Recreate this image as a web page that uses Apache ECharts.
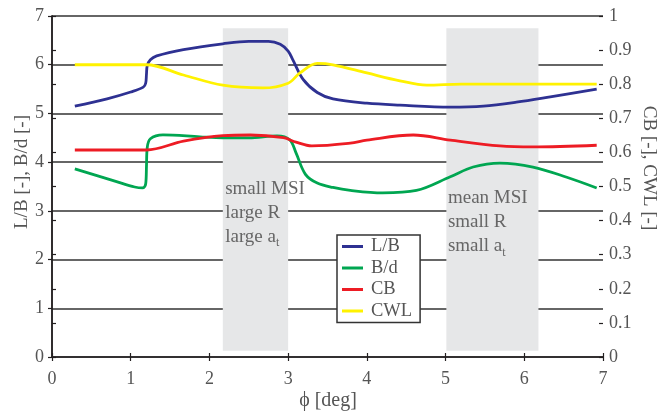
<!DOCTYPE html>
<html><head><meta charset="utf-8">
<script src="https://cdn.jsdelivr.net/npm/echarts@6/dist/echarts.min.js"></script>
<style>html,body{margin:0;padding:0;background:#fff}#c{width:661px;height:412px}</style>
</head><body><div id="c"></div>
<script>
// ---- data ----
const phiLB = [0.29,0.7,1.0,1.16,1.19,1.2,1.21,1.25,1.33,1.67,2.17,2.5,2.75,2.9,3.0,3.06,3.19,3.37,3.57,4.0,4.42,5.06,5.48,5.9,6.33,6.92];
const valLB = [5.15,5.3,5.44,5.54,5.62,5.8,5.98,6.1,6.18,6.31,6.43,6.48,6.48,6.42,6.28,6.1,5.7,5.43,5.3,5.21,5.17,5.13,5.15,5.23,5.34,5.5];

const phiBd = [0.29,0.82,1.05,1.15,1.19,1.2,1.21,1.25,1.41,1.88,2.17,2.5,2.86,3.02,3.1,3.22,3.37,3.57,3.79,4.2,4.63,5.06,5.35,5.69,6.11,6.54,6.92];
const valBd = [3.86,3.6,3.49,3.47,3.55,3.9,4.3,4.48,4.56,4.52,4.5,4.5,4.54,4.46,4.19,3.75,3.57,3.48,3.42,3.37,3.42,3.7,3.9,3.98,3.9,3.69,3.47];

const phiCB = [0.29,1.2,1.67,2.17,2.52,2.94,3.1,3.3,3.79,4.0,4.59,5.06,5.69,6.11,6.92];
const valCB = [0.607,0.607,0.633,0.649,0.651,0.643,0.63,0.619,0.627,0.636,0.651,0.636,0.619,0.616,0.621];

const phiCWL = [0.29,1.2,1.67,2.17,2.68,3.0,3.15,3.37,3.57,4.0,4.42,4.76,5.2,6.0,6.92];
const valCWL = [0.857,0.857,0.827,0.797,0.789,0.803,0.833,0.861,0.857,0.833,0.81,0.797,0.8,0.8,0.8];

const seriesNames = ['L/B','B/d','CB','CWL'];
const seriesColors = ['#2e3192','#00a651','#ed1c24','#fff200'];

// shaded regions: [phiStart, phiEnd, yBottom, yTop] (left-axis units)
const bands = [[2.17,3.0,0.13,6.75],[5.01,6.18,0.13,6.75]];
// annotations anchored in data coords (left axis)
const notes = [
  {phi:2.2, y:3.7, text:'small MSI\nlarge R\nlarge a{s|t}'},
  {phi:5.03, y:3.5, text:'mean MSI\nsmall R\nsmall a{s|t}'}
];

const xTicks = {min:0,max:7,interval:1};
const yLeft = {min:0,max:7,interval:1};
const yRight = {min:0,max:1,interval:0.1};

const zip = (a,b)=>a.map((v,i)=>[v,b[i]]);
const FONT = 'Liberation Serif';
const TXT = '#555';
const AX = '#231f20';

const chart = echarts.init(document.getElementById('c'));

function lineSeries(name, data, color, yIdx){
  return {name, type:'line', data, yAxisIndex:yIdx, showSymbol:false, symbol:'none',
    smooth:0.35, z:3,
    lineStyle:{color, width:2.8}, itemStyle:{color}};
}
function tickLabel(margin){
  return {margin, fontFamily:FONT, fontSize:18, color:TXT,
    formatter: v => '{t|' + (+v.toFixed(1)) + '}',
    rich:{t:{fontFamily:FONT, fontSize:18, color:TXT}}};
}

const option = {
  animation:false,
  backgroundColor:'#fff',
  textStyle:{fontFamily:FONT},
  grid:{left:52,right:58,top:16,bottom:55,containLabel:false,outerBoundsMode:'none'},
  xAxis:[{
    type:'value', min:xTicks.min, max:xTicks.max, interval:xTicks.interval,
    axisLine:{lineStyle:{color:AX,width:1.5}},
    axisTick:{length:4,lineStyle:{color:AX,width:1.2}},
    axisLabel:tickLabel(13),
    splitLine:{show:false}
  },{
    type:'value', min:xTicks.min, max:xTicks.max, interval:xTicks.interval, position:'bottom',
    axisLine:{show:false}, axisTick:{inside:true,length:4,lineStyle:{color:AX,width:1.2}},
    axisLabel:{show:false}, splitLine:{show:false}
  }],
  yAxis:[{
    type:'value', min:yLeft.min, max:yLeft.max, interval:yLeft.interval, position:'left',
    axisLine:{show:true,lineStyle:{color:AX,width:1.5}},
    axisTick:{show:true,length:4,lineStyle:{color:AX,width:1.2}},
    axisLabel:tickLabel(8),
    splitLine:{show:true,lineStyle:{color:'#333',width:1.5}}
  },{
    type:'value', min:yRight.min, max:yRight.max, interval:yRight.interval, position:'right',
    axisLine:{show:true,lineStyle:{color:AX,width:1.5}},
    axisTick:{show:true,length:4,lineStyle:{color:AX,width:1.2}},
    axisLabel:tickLabel(6),
    splitLine:{show:false}
  },{
    type:'value', min:yRight.min, max:yRight.max, interval:yRight.interval, position:'right',
    axisLine:{show:false}, axisTick:{show:true,inside:true,length:4,lineStyle:{color:AX,width:1.2}},
    axisLabel:{show:false}, splitLine:{show:false}
  }],
  legend:{
    data:seriesNames, orient:'vertical', left:337, top:235,
    padding:[2,8,2,5], itemWidth:21, itemHeight:3, itemGap:2.5, icon:'rect',
    borderColor:'#333', borderWidth:1.5, borderRadius:0, backgroundColor:'#fff',
    textStyle:{fontFamily:FONT,fontSize:18.5,color:TXT,lineHeight:18,padding:[0,0,0,3]},
    selectedMode:false, z:10
  },
  series:[
    {name:'bands', type:'line', data:[], z:1, silent:true,
      markArea:{silent:true, itemStyle:{color:'#e6e7e8'},
        data: bands.map(b=>[{xAxis:b[0],yAxis:b[2]},{xAxis:b[1],yAxis:b[3]}])}},
    lineSeries(seriesNames[0], zip(phiLB,valLB), seriesColors[0], 0),
    lineSeries(seriesNames[1], zip(phiBd,valBd), seriesColors[1], 0),
    lineSeries(seriesNames[2], zip(phiCB,valCB), seriesColors[2], 1),
    lineSeries(seriesNames[3], zip(phiCWL,valCWL), seriesColors[3], 1)
  ]
};
chart.setOption(option);

const g = notes.map(n=>{
  const p = chart.convertToPixel({xAxisIndex:0,yAxisIndex:0},[n.phi,n.y]);
  return {type:'text', x:p[0], y:p[1], z:5,
    style:{text:n.text, fontFamily:FONT, fontSize:19, lineHeight:24, fill:'#666',
      rich:{s:{fontFamily:FONT,fontSize:12,fill:'#666',lineHeight:10,verticalAlign:'bottom'}}}};
});
g.push({type:'text', x:328, y:401, z:5,
  style:{text:'\u03d5 [deg]', fontFamily:FONT, fontSize:20, fill:TXT, align:'center', verticalAlign:'middle'}});
g.push({type:'text', x:22, y:172, rotation:Math.PI/2, z:5,
  style:{text:'L/B [-], B/d [-]', fontFamily:FONT, fontSize:19, fill:TXT, align:'center', verticalAlign:'middle'}});
g.push({type:'text', x:649, y:168, rotation:-Math.PI/2, z:5,
  style:{text:'CB [-], CWL [-]', fontFamily:FONT, fontSize:19, fill:TXT, align:'center', verticalAlign:'middle'}});
chart.setOption({graphic:g});
</script></body></html>
